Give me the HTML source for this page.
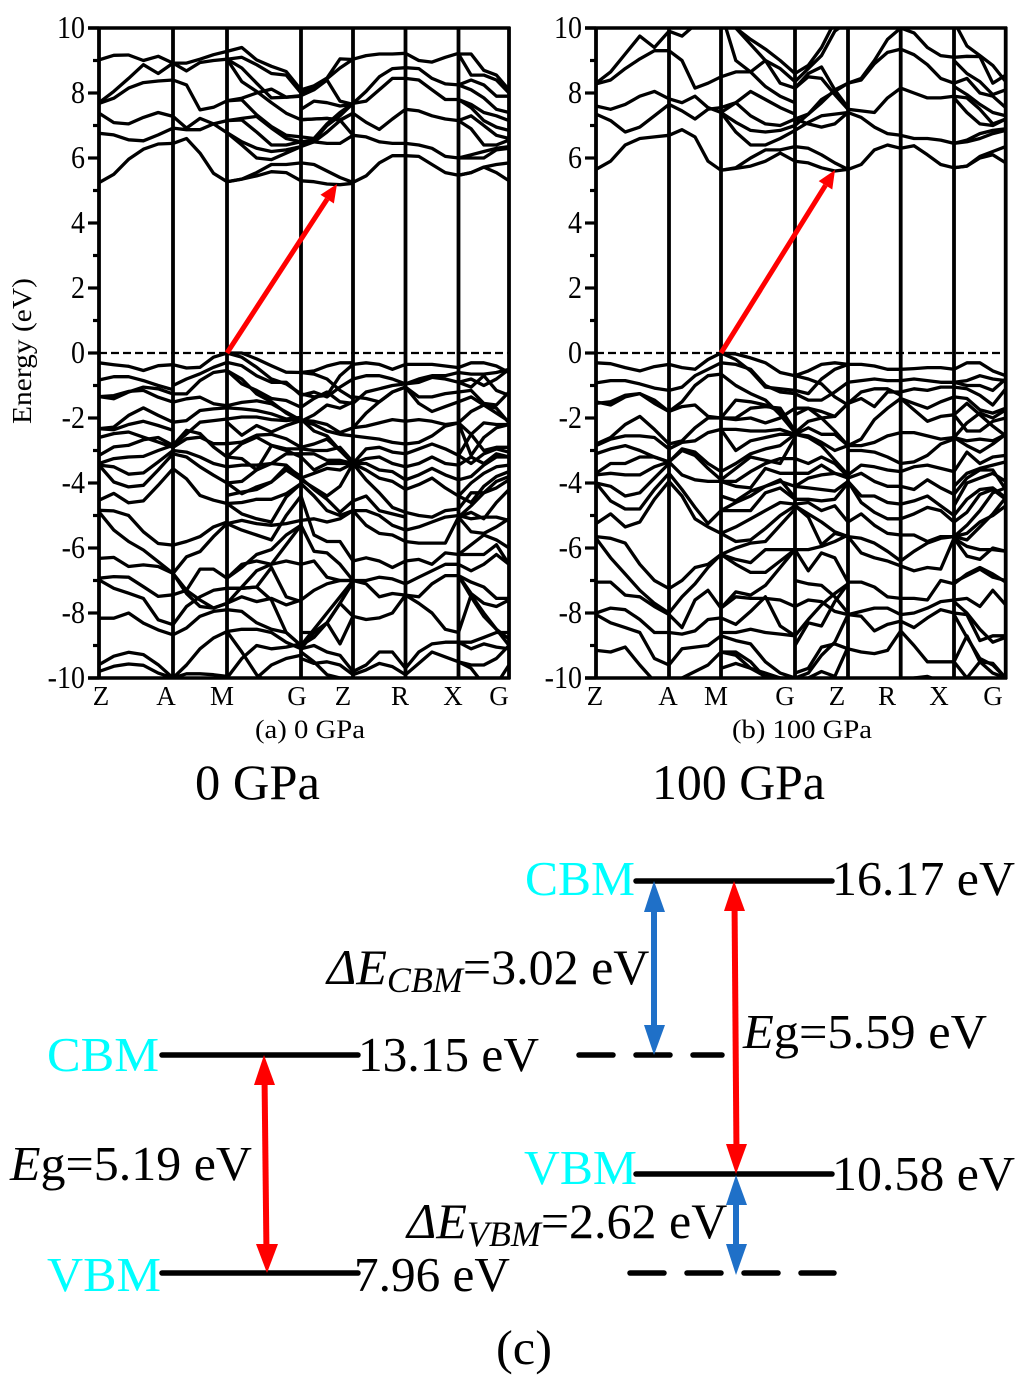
<!DOCTYPE html>
<html lang="en">
<head>
<meta charset="utf-8">
<title>Band structure at 0 GPa and 100 GPa</title>
<style>
html,body{margin:0;padding:0;background:#fff;}
svg{display:block;}
text{font-family:"Liberation Serif","DejaVu Serif",serif;fill:#000;}
</style>
</head>
<body>
<svg id="fig" xmlns="http://www.w3.org/2000/svg" width="1024" height="1389" viewBox="0 0 1024 1389">
  <rect x="0" y="0" width="1024" height="1389" fill="#fff"/>
  <g id="panelA"></g>
  <g id="panelB"></g>

  <text transform="translate(31,351) rotate(-90)" text-anchor="middle" font-size="27" textLength="146" lengthAdjust="spacingAndGlyphs">Energy (eV)</text>
  <text x="255" y="738" font-size="26" textLength="110" lengthAdjust="spacingAndGlyphs">(a) 0 GPa</text>
  <text x="732" y="738" font-size="26" textLength="140" lengthAdjust="spacingAndGlyphs">(b) 100 GPa</text>
  <text x="195" y="799" font-size="50" textLength="125" lengthAdjust="spacingAndGlyphs">0 GPa</text>
  <text x="652" y="799" font-size="50" textLength="173" lengthAdjust="spacingAndGlyphs">100 GPa</text>

  <g>
    <line x1="162" y1="1055" x2="358" y2="1055" stroke="#000" stroke-width="5.5" stroke-linecap="round"/>
    <line x1="162" y1="1273" x2="358" y2="1273" stroke="#000" stroke-width="5.5" stroke-linecap="round"/>
    <line x1="636" y1="881" x2="832" y2="881" stroke="#000" stroke-width="5.5" stroke-linecap="round"/>
    <line x1="636" y1="1174" x2="832" y2="1174" stroke="#000" stroke-width="5.5" stroke-linecap="round"/>
    <line x1="579" y1="1055" x2="722" y2="1055" stroke="#000" stroke-width="5.5" stroke-linecap="round" stroke-dasharray="34 23"/>
    <line x1="630" y1="1273" x2="834" y2="1273" stroke="#000" stroke-width="5.5" stroke-linecap="round" stroke-dasharray="34 23"/>

    <g fill="#ff0000">
      <polygon points="261.5,1075 267.5,1075 269.5,1255 263.5,1255"/>
      <polygon points="264,1055 254,1085 275,1085"/>
      <polygon points="267,1273 256,1244 278,1244"/>
    </g>
    <g fill="#ff0000">
      <polygon points="731.5,900 737.5,900 739.5,1156 733.5,1156"/>
      <polygon points="734,881 724,911 745,911"/>
      <polygon points="736,1174 726,1144 747,1144"/>
    </g>
    <g fill="#1f70c8">
      <rect x="651" y="905" width="6" height="130"/>
      <polygon points="654,881 644,912 665,912"/>
      <polygon points="654,1055 644,1025 665,1025"/>
    </g>
    <g fill="#1f70c8">
      <rect x="733" y="1195" width="6" height="60"/>
      <polygon points="736,1175 726,1205 747,1205"/>
      <polygon points="736,1275 726,1244 747,1244"/>
    </g>

    <text x="47" y="1071" font-size="49" style="fill:#00ffff" textLength="112" lengthAdjust="spacingAndGlyphs">CBM</text>
    <text x="47" y="1291" font-size="49" style="fill:#00ffff" textLength="114" lengthAdjust="spacingAndGlyphs">VBM</text>
    <text x="525" y="895" font-size="49" style="fill:#00ffff" textLength="110" lengthAdjust="spacingAndGlyphs">CBM</text>
    <text x="524" y="1184" font-size="49" style="fill:#00ffff" textLength="113" lengthAdjust="spacingAndGlyphs">VBM</text>
    <text x="358" y="1071" font-size="49" textLength="181" lengthAdjust="spacingAndGlyphs">13.15 eV</text>
    <text x="354" y="1291" font-size="49" textLength="156" lengthAdjust="spacingAndGlyphs">7.96 eV</text>
    <text x="832" y="895" font-size="49" textLength="183" lengthAdjust="spacingAndGlyphs">16.17 eV</text>
    <text x="832" y="1190" font-size="49" textLength="183" lengthAdjust="spacingAndGlyphs">10.58 eV</text>
    <text x="10" y="1180" font-size="49" textLength="242" lengthAdjust="spacingAndGlyphs"><tspan font-style="italic">E</tspan>g=5.19 eV</text>
    <text x="743" y="1048" font-size="49" textLength="244" lengthAdjust="spacingAndGlyphs"><tspan font-style="italic">E</tspan>g=5.59 eV</text>
    <text x="327" y="984" font-size="50"><tspan font-style="italic">ΔE</tspan><tspan font-style="italic" font-size="36" dy="8">CBM</tspan><tspan dy="-8">=3.02 eV</tspan></text>
    <text x="407" y="1238" font-size="50"><tspan font-style="italic">ΔE</tspan><tspan font-style="italic" font-size="36" dy="8">VBM</tspan><tspan dy="-8">=2.62 eV</tspan></text>
    <text x="496" y="1364" font-size="49" textLength="56" lengthAdjust="spacingAndGlyphs">(c)</text>
  </g>
</svg>
<script>
const yTicks = [10, 8, 6, 4, 2, 0, -2, -4, -6, -8, -10];
const yMinorTicks = [9, 7, 5, 3, 1, -1, -3, -5, -7, -9];
const kLabels = ['Z', 'A', 'M', 'G', 'Z', 'R', 'X', 'G'];
const kNodesA = [0, 0.74, 1.28, 2.02, 2.54, 3.065, 3.595, 4.1];
const kNodesB = [0, 0.73, 1.25, 1.99, 2.52, 3.047, 3.58, 4.097];
const kLabelsAtA = [0.02, 0.67, 1.23, 1.98, 2.44, 3.01, 3.54, 4.0];
const kLabelsAtB = [-0.01, 0.72, 1.2, 1.89, 2.41, 2.91, 3.43, 3.97];
const arrowA = [1.28, 0, 2.38, 5.2];
const arrowB = [1.25, 0, 2.39, 5.63];

const bandsA_ZA = [
[9.02,9.16,9.17,9.0,9.13,8.92],[7.7,8.05,8.45,8.87,8.6,8.92],[7.68,7.84,8.15,8.32,8.37,8.4],[7.38,7.09,7.05,7.25,7.4,7.28],[6.76,6.71,6.56,6.53,6.71,6.92],[5.24,5.5,5.96,6.27,6.43,6.45],
[-.3,-.36,-.41,-.54,-.39,-.36],[-.83,-.73,-.73,-.85,-1.0,-1.13],[-1.34,-1.41,-1.2,-1.05,-1.1,-1.26],[-1.34,-1.31,-1.18,-1.15,-1.36,-1.51],[-2.33,-2.28,-1.92,-1.69,-1.92,-2.13],[-2.33,-2.36,-2.2,-2.1,-2.23,-2.38],[-2.6,-2.48,-2.43,-2.59,-2.74,-2.9],[-3.15,-2.89,-2.84,-2.67,-2.6,-2.84],[-3.4,-3.25,-3.2,-3.18,-3.0,-2.84],[-3.45,-3.5,-3.73,-3.69,-3.35,-3.0],[-3.45,-3.97,-4.12,-4.07,-3.6,-3.1],[-4.53,-4.32,-4.61,-4.55,-4.07,-3.56],[-4.84,-4.86,-5.0,-5.5,-5.86,-5.91],[-4.89,-5.45,-5.8,-6.06,-6.42,-6.78],[-6.32,-6.29,-6.57,-6.52,-6.57,-6.78],[-6.93,-6.88,-6.9,-7.19,-7.49,-7.44],[-6.98,-7.24,-7.39,-7.55,-8.21,-8.36],[-8.16,-8.16,-8.0,-8.31,-8.52,-8.67],[-9.59,-9.33,-9.21,-9.28,-9.59,-10],[-9.8,-9.64,-9.57,-9.61,-9.85,-10]
];
const bandsA_AM = [
[8.92,8.92,9.04,9.18,9.28],[8.92,8.68,8.94,9.0,9.04],[8.4,8.25,7.48,7.56,7.76],[7.28,6.92,7.22,7.05,6.78],[6.92,6.87,6.87,7.05,7.15],[6.45,6.6,6.15,5.53,5.27],
[-.36,-.46,-.44,-.13,0],[-1.0,-.8,-.64,-.44,-.29],[-1.26,-1.26,-.85,-.6,-.54],[-1.51,-1.41,-1.36,-1.56,-1.62],[-2.13,-2.08,-1.77,-1.72,-1.69],[-2.84,-2.49,-2.13,-2.08,-2.03],[-2.9,-2.64,-2.59,-2.79,-2.79],[-2.84,-2.38,-2.48,-2.89,-3.2],[-3,-3.05,-3.2,-3.4,-3.5],[-3.1,-3.2,-3.5,-3.76,-4.0],[-3.56,-3.87,-4.38,-4.53,-4.63],[-5.91,-5.8,-5.65,-5.35,-5.2],[-6.78,-6.27,-6.11,-5.65,-5.25],[-6.78,-7.3,-6.65,-6.65,-6.93],[-6.78,-7.4,-7.8,-7.85,-7.7],[-7.44,-7.3,-7.6,-7.85,-7.7],[-8.36,-7.8,-7.5,-7.3,-7.24],[-8.67,-8.46,-8.1,-7.95,-7.9],[-10,-9.6,-9.1,-8.77,-8.57],[-10,-9.87,-9.87,-9.9,-9.95]
];
const bandsA_MG = [
[9.28,9.4,9.02,8.82,8.66,8.1],[9.04,9.1,8.87,8.6,8.55,8.0],[9.04,8.77,8.3,7.85,7.87,7.92],[9.04,8.35,8.05,7.7,7.38,7.18],[7.76,7.84,8.0,8.12,7.87,7.9],[7.76,7.79,7.33,6.97,6.7,6.65],[7.15,7.22,7.28,6.92,6.6,6.5],[7.15,7.17,6.8,6.4,6.4,6.5],[6.78,6.5,6.3,6.2,6.25,6.35],[6.78,6.4,6.0,5.95,6.15,6.35],[5.27,5.35,5.55,5.8,5.8,5.85],[5.27,5.35,5.45,5.58,5.55,5.3],
[0,-.13,-.44,-.8,-.95,-1.26],[0,0,-.18,-.39,-.59,-.6],[-.29,-.39,-.7,-.9,-.9,-1.3],[-.54,-.95,-1.15,-1.4,-1.46,-1.67],[-.54,-.8,-1.26,-1.5,-1.85,-2.1],[-1.62,-1.52,-1.47,-1.56,-1.82,-2.07],[-1.69,-1.72,-1.77,-1.87,-2.03,-1.98],[-2.03,-1.97,-1.97,-2.05,-2.08,-2.03],[-2.13,-2.53,-2.23,-2.43,-2.23,-2.08],[-2.79,-2.74,-2.53,-2.5,-2.64,-2.9],[-3.2,-2.79,-2.59,-2.84,-2.95,-2.95],[-3.5,-3.45,-3.45,-3.4,-3.1,-3.1],[-3.2,-3.25,-3.6,-2.85,-3.0,-3.2],[-4.0,-3.95,-3.6,-3.4,-3.45,-3.85],[-4.0,-4.33,-4.12,-3.97,-3.6,-3.9],[-4.38,-4.28,-4.2,-3.97,-3.5,-3.8],[-4.63,-4.6,-4.5,-4.5,-4.33,-4.02],[-4.63,-4.95,-5.1,-5.2,-4.43,-4.02],[-5.25,-5.15,-5.25,-5.3,-5.25,-5.15],[-5.25,-5.45,-5.6,-5.75,-5.0,-4.4],[-6.93,-6.6,-6.2,-6.05,-5.6,-5.3],[-6.93,-6.5,-6.4,-6.5,-6.4,-6.5],[-7.7,-7.2,-6.7,-6.5,-5.9,-5.3],[-7.24,-7.24,-7.2,-6.6,-7.5,-7.65],[-7.7,-7.5,-7.65,-7.55,-7.75,-7.6],[-7.9,-7.95,-8.3,-8.5,-8.6,-9.0],[-7.24,-7.24,-7.2,-7.6,-8.6,-9.0],[-8.57,-8.5,-8.5,-8.6,-8.9,-9.1],[-8.57,-9.2,-9.9,-10.2,-10.2,-10.2],[-10,-9.4,-9.0,-9.1,-9.05,-8.95],[-10.2,-10.2,-10,-9.6,-9.4,-9.3]
];
const bandsA_GZ = [
[8.1,8.22,8.46,9.05,9.03],[8.0,8.18,8.44,8.77,9.04],[7.92,8.1,8.4,7.75,7.65],[7.5,7.75,7.7,7.6,7.65],[7.18,7.2,7.22,7.17,7.38],[6.65,6.6,7.05,7.4,7.68],[6.5,6.55,7.0,7.3,7.68],[6.4,6.5,6.45,6.45,6.7],[6.35,6.5,6.8,7.15,7.38],[7.18,7.2,7.22,7.17,6.7],[5.85,5.8,5.6,5.4,5.25],[5.3,5.27,5.2,5.18,5.22],
[-.6,-.55,-.4,-.3,-.3],[-.6,-.65,-.8,-1.15,-1.4],[-1.26,-1.35,-1.3,-.7,-.35],[-1.3,-1.2,-1.35,-1.05,-.8],[-1.67,-1.4,-1.2,-1.5,-1.55],[-2.1,-1.9,-1.6,-1.7,-1.5],[-2.07,-2.1,-2.2,-2.45,-2.3],[-2.03,-2.4,-2.55,-3.0,-3.4],[-2.08,-2.2,-2.4,-2.5,-2.55],[-2.9,-2.8,-2.65,-3.0,-3.4],[-2.95,-3.0,-3.0,-2.9,-3.35],[-3.1,-3.1,-3.3,-3.3,-3.4],[-3.2,-3.6,-3.4,-3.4,-3.4],[-3.85,-3.7,-3.55,-3.6,-3.4],[-3.85,-4.2,-4.5,-4.9,-4.55],[-3.9,-4.15,-4.4,-4.1,-3.4],[-4.02,-4.4,-4.85,-5.0,-4.85],[-5.15,-5.1,-5.2,-5.1,-4.85],[-4.4,-5.6,-5.8,-5.8,-6.4],[-5.3,-6.1,-6.15,-6.5,-7.0],[-6.5,-6.4,-6.9,-7.0,-7.0],[-7.6,-7.3,-7.1,-7.0,-7.0],[-9.0,-8.5,-8.0,-7.5,-7.0],[-8.6,-8.6,-8.3,-7.7,-7.05],[-9.0,-8.75,-8.3,-8.95,-8.1],[-9.1,-8.6,-8.3,-7.7,-8.1],[-9.1,-9.0,-9.2,-9.3,-9.8],[-9.4,-9.55,-9.5,-9.6,-9.9],[-9.2,-9.5,-9.9,-10,-10]
];
const bandsA_ZR = [
[9.04,9.15,9.2,9.2,9.22],[7.68,8.05,8.5,8.75,8.78],[7.68,7.75,8.1,8.45,8.45],[7.38,7.1,6.88,7.2,7.5],[6.7,6.65,6.5,6.45,6.45],[5.25,5.45,5.85,6.07,6.07],
[-.35,-.3,-.35,-.5,-.35],[-.8,-.7,-.7,-.8,-.95],[-1.35,-1.4,-1.5,-1.2,-1.05],[-1.55,-1.2,-1.1,-1.0,-.95],[-2.3,-1.85,-1.5,-1.2,-1.05],[-2.3,-2.25,-2.15,-2.05,-2.1],[-2.55,-2.6,-2.65,-2.75,-2.8],[-3.4,-2.95,-2.9,-3.05,-3.1],[-3.4,-3.25,-3.2,-3.4,-3.5],[-3.4,-3.4,-3.6,-3.65,-3.9],[-3.4,-3.6,-3.85,-3.95,-4.2],[-3.4,-3.9,-4.3,-4.75,-4.9],[-4.55,-4.4,-4.85,-4.95,-5.05],[-4.85,-4.85,-5.0,-5.3,-5.45],[-4.85,-5.3,-5.55,-5.6,-5.8],[-6.4,-6.3,-6.4,-6.6,-6.4],[-7.0,-7.0,-6.9,-6.95,-7.1],[-7.0,-7.1,-7.5,-7.4,-7.45],[-8.1,-8.2,-8.15,-8.0,-7.45],[-9.8,-9.6,-9.2,-9.2,-9.7],[-9.9,-9.75,-9.55,-9.65,-9.9]
];
const bandsA_RX = [
[9.22,9.0,8.95,9.1,9.22],[8.78,8.75,8.45,8.28,8.25],[8.45,8.4,8.1,7.8,7.8],[7.5,7.45,7.3,7.2,7.15],[6.45,6.4,6.3,6.05,6.0],[6.07,6.05,5.8,5.55,5.47],
[-.35,-.35,-.35,-.4,-.45],[-.95,-.8,-.7,-.7,-.6],[-.95,-.9,-.75,-.8,-.9],[-1.05,-1.35,-1.35,-1.25,-1.2],[-1.05,-1.55,-1.8,-1.65,-1.5],[-2.1,-2.05,-2.1,-2.2,-2.15],[-2.8,-2.75,-2.55,-2.25,-2.15],[-3.1,-2.95,-2.8,-2.95,-3.15],[-3.5,-3.4,-3.2,-3.4,-3.45],[-3.9,-3.75,-3.55,-3.75,-3.9],[-4.2,-4.05,-3.85,-4.15,-4.4],[-4.9,-5.0,-5.05,-4.85,-4.8],[-5.45,-5.35,-5.2,-5.05,-5.0],[-5.8,-5.85,-5.85,-5.85,-5.05],[-6.4,-6.35,-6.5,-6.15,-6.2],[-7.1,-6.9,-6.7,-6.5,-6.5],[-7.45,-7.5,-7.1,-6.85,-6.85],[-7.45,-7.7,-8.0,-8.5,-8.6],[-9.7,-9.2,-8.95,-8.9,-8.9],[-9.9,-9.55,-9.2,-9.35,-9.5]
];
const bandsA_XG = [
[9.2,9.2,8.7,8.55,8.1],[9.2,8.55,8.55,8.4,8.0],[8.25,8.4,8.25,7.9,7.9],[8.25,8.1,7.85,7.5,7.4],[7.8,7.65,7.4,7.3,7.15],[7.8,7.55,7.15,6.95,6.85],[7.15,7.3,7.0,6.7,6.6],[7.15,6.9,6.4,6.4,6.55],[6.0,6.1,6.2,6.3,6.35],[6.0,6.0,6.0,6.25,6.3],[5.47,5.55,5.72,5.8,5.85],[5.47,5.55,5.72,5.55,5.3],
[-.45,-.3,-.3,-.4,-.6],[-.6,-.65,-.65,-.6,-.5],[-.9,-.8,-1.0,-.8,-.5],[-.9,-1.05,-.7,-1.15,-1.3],[-1.2,-1.15,-1.55,-1.6,-1.2],[-1.5,-1.35,-1.6,-1.85,-2.1],[-2.15,-1.8,-1.6,-1.7,-2.15],[-2.15,-2.5,-2.15,-2.2,-2.2],[-2.15,-3.15,-2.6,-2.3,-2.2],[-3.15,-2.5,-3.0,-2.9,-2.9],[-3.15,-3.4,-3.1,-2.95,-3.05],[-3.45,-3.2,-3.4,-3.1,-3.2],[-3.9,-3.8,-3.45,-3.2,-3.2],[-4.4,-4.0,-3.7,-3.5,-3.45],[-4.4,-4.6,-4.1,-3.8,-3.65],[-4.8,-4.3,-4.3,-4.15,-3.9],[-5.05,-4.7,-4.3,-3.95,-3.8],[-5.05,-4.9,-5.1,-4.6,-4.2],[-5.0,-5.1,-5.05,-5.05,-5.15],[-5.05,-5.5,-5.55,-5.35,-5.1],[-6.2,-5.9,-5.6,-5.75,-6.0],[-6.2,-6.2,-6.2,-5.9,-6.5],[-6.5,-6.7,-6.5,-6.2,-6.5],[-6.85,-7.05,-7.2,-7.55,-7.55],[-6.85,-7.4,-7.7,-7.8,-7.6],[-8.6,-7.45,-8.0,-8.5,-9.0],[-6.85,-7.5,-8.1,-8.5,-8.8],[-8.9,-8.9,-8.75,-8.6,-8.6],[-8.9,-9.1,-8.95,-9.05,-9.1],[-9.5,-9.6,-9.6,-9.4,-9.0],[-9.5,-9.7,-10.2,-10.2,-9.6]
];

const bandsB_ZA = [
[8.3,8.65,9.2,9.75,9.4,9.9],[8.28,8.4,8.75,9.05,9.3,9.3],[7.6,7.5,7.65,7.9,8.05,7.82],[7.35,7.15,6.8,6.95,7.3,7.65],[5.65,5.9,6.4,6.6,6.65,6.7],
[-.3,-.33,-.45,-.55,-.42,-.35],[-.92,-.85,-.85,-.95,-1.08,-1.15],[-1.5,-1.6,-1.35,-1.25,-1.45,-1.8],[-1.55,-1.5,-1.3,-1.25,-1.55,-1.8],[-2.8,-2.6,-2.2,-1.95,-2.35,-2.8],[-2.85,-2.65,-2.55,-2.55,-2.6,-2.95],[-3.1,-2.95,-2.85,-3.0,-3.2,-3.35],[-3.7,-3.4,-3.4,-3.2,-3.2,-3.35],[-3.75,-3.7,-3.75,-3.75,-3.5,-3.35],[-4.0,-4.1,-4.4,-4.3,-3.85,-3.4],[-4.0,-4.55,-4.8,-4.8,-4.2,-3.7],[-5.25,-4.95,-5.35,-5.2,-4.5,-3.95],[-5.65,-5.7,-5.85,-6.5,-7.0,-7.25],[-5.7,-6.3,-6.8,-7.3,-7.7,-8.0],[-7.05,-7.05,-7.45,-7.5,-7.8,-8.05],[-8.0,-7.85,-7.9,-8.2,-8.6,-8.6],[-8.05,-8.3,-8.45,-8.6,-9.4,-9.6],[-9.15,-9.2,-9.05,-9.6,-10.1,-10.3]
];
const bandsB_AM = [
[9.9,9.75,10.1,10.5,10.9],[9.3,9.0,8.15,8.3,8.5],[7.82,7.7,7.9,7.55,7.4],[7.65,7.45,7.2,7.5,7.55],[6.7,6.87,6.65,5.9,5.62],
[-.35,-.45,-.5,-.2,0],[-1.15,-1.05,-.7,-.5,-.3],[-1.8,-1.5,-1.0,-.7,-.65],[-1.8,-1.65,-1.6,-1.95,-2.0],[-2.8,-2.7,-2.3,-2.0,-2.0],[-2.95,-2.75,-2.7,-2.45,-2.35],[-3.35,-2.95,-3.05,-3.4,-3.65],[-3.35,-3.0,-3.15,-3.55,-3.9],[-3.35,-3.75,-3.9,-3.95,-3.95],[-3.7,-4.2,-4.75,-5.25,-4.85],[-3.95,-4.4,-5.1,-5.35,-5.55],[-7.25,-7.0,-6.6,-6.5,-6.2],[-8.0,-7.5,-7.1,-6.6,-6.2],[-8.05,-8.45,-7.6,-7.3,-7.85],[-8.6,-8.65,-8.55,-8.2,-8.15],[-9.6,-9.1,-9.05,-9.0,-8.7],[-10.3,-10,-9.8,-9.6,-9.2]
];
const bandsB_MG = [
[10.5,10.0,9.65,9.35,9.0,8.6],[10.5,10.0,9.5,9.0,8.75,8.35],[10.5,9.0,8.65,9.0,8.3,8.15],[8.5,8.65,8.65,8.2,7.9,7.7],[7.55,7.7,8.05,7.8,7.55,7.35],[7.4,7.7,7.3,7.05,7.0,7.2],[7.4,7.1,6.85,6.8,6.85,7.0],[7.4,6.8,6.4,6.4,6.6,6.85],[5.62,5.7,6.0,6.25,6.25,6.35],[5.62,5.68,5.75,5.9,6.15,5.9],
[0,-.03,-.15,-.3,-.6,-.7],[0,-.2,-.55,-1.05,-1.1,-1.15],[-.3,-.35,-.5,-1.0,-1.2,-1.25],[-.65,-1.0,-1.25,-1.45,-1.9,-2.45],[-2.0,-1.45,-1.5,-1.6,-1.8,-2.4],[-2.0,-2.0,-1.7,-1.65,-1.7,-2.4],[-2.0,-2.05,-2.0,-2.15,-2.0,-1.7],[-2.35,-2.35,-2.4,-2.4,-2.35,-2.5],[-2.35,-3.0,-2.7,-2.6,-2.5,-2.5],[-3.65,-3.4,-3.1,-2.95,-2.85,-2.5],[-3.9,-3.55,-3.2,-3.3,-3.4,-2.6],[-3.95,-3.95,-3.65,-3.4,-3.25,-3.25],[-3.95,-4.1,-4.15,-3.55,-3.7,-3.7],[-4.4,-4.55,-4.25,-4.1,-3.95,-4.1],[-4.85,-4.85,-4.85,-4.3,-4.15,-4.5],[-4.85,-4.6,-4.4,-4.1,-3.9,-4.45],[-5.55,-5.35,-5.1,-4.85,-4.6,-4.65],[-5.55,-5.8,-5.75,-5.4,-5.0,-4.7],[-6.2,-6.0,-5.85,-5.8,-5.3,-4.8],[-6.2,-6.35,-6.45,-6.05,-6.05,-6.05],[-6.2,-6.5,-6.75,-6.75,-6.4,-6.05],[-7.85,-7.35,-7.45,-7.15,-6.6,-6.05],[-7.85,-7.5,-7.55,-7.55,-7.6,-7.8],[-8.15,-8.35,-7.95,-7.5,-8.4,-8.7],[-8.6,-8.6,-8.5,-8.6,-8.65,-8.7],[-9.2,-9.2,-9.5,-10,-10.3,-10.3],[-8.7,-8.85,-8.95,-9.5,-9.85,-10],[-9.7,-9.55,-9.7,-9.85,-10,-10],[-9.2,-9.3,-9.7,-9.95,-10,-10.2]
];
const bandsB_GZ = [
[8.6,8.85,9.4,10.2,10.6],[8.35,8.75,9.15,9.9,10.2],[8.15,8.5,8.45,7.95,7.5],[8.15,8.6,8.8,8.1,7.55],[7.2,7.35,7.8,8.05,8.3],[7.0,7.35,7.7,8.1,8.3],[7.2,7.05,6.95,7.05,7.4],[6.85,7.1,7.3,7.35,7.4],[6.35,6.3,6.1,5.85,5.65],[5.9,5.85,5.7,5.6,5.65],
[-.7,-.55,-.35,-.3,-.35],[-.7,-.8,-.95,-1.35,-1.6],[-1.15,-1.25,-.8,-.5,-.35],[-1.25,-1.45,-1.45,-1.2,-.9],[-1.9,-1.7,-1.8,-1.95,-1.55],[-2.45,-2.1,-2.0,-1.95,-1.55],[-1.7,-1.7,-2.0,-2.4,-2.85],[-2.5,-2.3,-2.5,-2.5,-2.85],[-2.5,-2.55,-2.75,-3.0,-2.85],[-2.5,-2.6,-2.85,-3.3,-3.75],[-3.25,-3.4,-3.2,-3.4,-3.8],[-3.7,-3.7,-3.45,-3.7,-3.8],[-4.1,-3.85,-3.75,-3.7,-3.85],[-4.1,-4.15,-4.2,-4.25,-3.95],[-4.5,-4.5,-4.55,-4.5,-4.0],[-4.65,-4.6,-4.85,-4.7,-5.2],[-4.7,-4.95,-5.2,-5.5,-5.65],[-4.7,-5.05,-5.9,-5.55,-5.65],[-6.05,-6.05,-5.95,-5.8,-5.6],[-6.05,-6.7,-6.15,-6.3,-7.05],[-7.0,-7.1,-7.15,-7.5,-8.0],[-7.8,-7.6,-7.65,-7.95,-8.05],[-8.7,-8.2,-7.75,-7.4,-7.1],[-9.85,-9.7,-9.05,-8.95,-9.1],[-10,-9.85,-9.3,-8.9,-8.05],[-9,-8.3,-8.4,-7.65,-7.1],[-10,-10,-9.8,-9.95,-9.05]
];
const bandsB_ZR = [
[8.3,8.45,9.0,9.65,10.0],[8.3,8.4,8.9,9.25,9.35],[7.5,7.45,7.4,7.85,8.15],[7.4,7.25,6.95,6.75,6.7],[5.65,5.8,6.25,6.4,6.3],
[-.35,-.35,-.4,-.5,-.5],[-.9,-.85,-.8,-.85,-.85],[-1.55,-1.4,-1.65,-1.2,-1.2],[-1.55,-1.2,-1.1,-1.1,-1.3],[-2.85,-2.65,-2.05,-1.7,-1.4],[-2.85,-2.85,-2.75,-2.55,-2.45],[-3.0,-3.0,-3.05,-3.2,-3.4],[-3.75,-3.45,-3.5,-3.6,-3.65],[-3.85,-3.7,-3.95,-4.1,-4.1],[-3.95,-4.4,-4.4,-4.6,-4.65],[-3.95,-4.6,-4.9,-5.1,-5.1],[-5.2,-4.95,-5.3,-5.55,-5.6],[-5.65,-5.7,-5.85,-6.1,-6.4],[-5.65,-6.15,-6.3,-6.4,-6.55],[-7.05,-7.05,-7.2,-7.5,-7.55],[-8.05,-8.1,-8.55,-8.35,-8.25],[-8.05,-7.95,-7.85,-7.85,-8.05],[-9.1,-9.2,-9.25,-9.15,-8.55]
];
const bandsB_RX = [
[10,9.85,9.4,9.15,9.1],[9.35,9.18,8.87,8.45,8.3],[8.15,8.0,7.85,7.85,7.9],[6.7,6.6,6.6,6.55,6.45],[6.3,6.38,6.1,5.8,5.7],
[-.5,-.48,-.45,-.45,-.5],[-.85,-.8,-.85,-.9,-.9],[-1.2,-1.1,-1.15,-1.05,-1.05],[-1.4,-1.55,-1.7,-1.5,-1.35],[-1.4,-1.75,-2.1,-1.95,-1.9],[-2.45,-2.45,-2.55,-2.65,-2.6],[-3.4,-3.35,-3.15,-2.8,-2.65],[-3.65,-3.5,-3.45,-3.55,-3.65],[-4.1,-4.2,-3.9,-4.15,-4.35],[-4.65,-4.55,-4.4,-4.7,-5.0],[-5.1,-4.95,-4.75,-4.85,-5.2],[-5.6,-5.6,-5.8,-5.65,-5.65],[-6.4,-6.1,-5.85,-5.7,-5.65],[-6.55,-6.7,-6.6,-6.65,-5.7],[-7.55,-7.55,-7.6,-7.0,-7.1],[-8.05,-8.0,-7.85,-7.65,-7.6],[-8.25,-8.45,-8.15,-7.9,-8.0],[-8.55,-9.0,-9.5,-9.5,-9.5],[-10.2,-10,-9.95,-10.1,-10.2]
];
const bandsB_XG = [
[10.2,9.45,9.15,8.85,8.35],[9.1,9.13,9.12,8.3,8.55],[9.0,8.6,8.35,7.95,8.1],[8.3,8.45,8.0,7.9,7.55],[8.2,7.95,7.65,7.4,7.3],[7.9,7.85,7.5,7.05,7.2],[7.85,7.4,7.05,7.0,7.2],[6.45,6.55,6.75,6.85,6.9],[6.45,6.5,6.6,6.75,6.85],[5.7,5.75,6.05,6.2,6.35],[5.7,5.75,6.0,6.1,5.85],
[-.5,-.3,-.3,-.55,-.7],[-.9,-.85,-.7,-.8,-.85],[-.9,-1.0,-1.0,-1.15,-.8],[-1.05,-1.1,-1.3,-1.6,-1.1],[-1.35,-1.4,-1.75,-1.85,-1.7],[-1.9,-1.55,-1.9,-2.25,-2.55],[-1.9,-2.4,-2.4,-2.1,-2.0],[-2.6,-2.15,-1.85,-2.0,-1.75],[-2.6,-2.85,-3.05,-2.8,-2.5],[-2.6,-2.7,-2.65,-2.7,-2.5],[-3.65,-3.05,-3.4,-3.2,-3.15],[-4.1,-3.7,-3.55,-3.45,-3.35],[-4.35,-3.85,-3.6,-3.6,-4.2],[-4.7,-4.0,-3.85,-3.7,-3.95],[-5.0,-4.5,-4.2,-4.15,-4.45],[-5.2,-4.9,-4.35,-4.2,-4.5],[-5.65,-5.3,-4.85,-4.3,-4.15],[-5.65,-5.75,-5.35,-4.95,-4.45],[-5.65,-5.55,-5.2,-5.0,-4.7],[-5.7,-5.95,-6.05,-6.05,-6.1],[-5.7,-6.25,-6.35,-6.0,-6.1],[-7.1,-6.8,-6.6,-6.8,-7.05],[-7.05,-6.85,-6.65,-6.9,-7.0],[-7.6,-7.55,-7.8,-7.3,-7.75],[-8.0,-8.05,-8.85,-8.7,-8.7],[-7.65,-8.0,-8.5,-8.9,-8.75],[-8.05,-8.75,-9.4,-9.6,-10],[-9.5,-8.7,-9.5,-9.55,-10],[-9.5,-10,-9.5,-9.85,-10]
];

const segmentsA = [bandsA_ZA, bandsA_AM, bandsA_MG, bandsA_GZ, bandsA_ZR, bandsA_RX, bandsA_XG];
const segmentsB = [bandsB_ZA, bandsB_AM, bandsB_MG, bandsB_GZ, bandsB_ZR, bandsB_RX, bandsB_XG];

const svgNS = 'http://www.w3.org/2000/svg';
function make(tag, attrs, parent) {
  const el = document.createElementNS(svgNS, tag);
  for (const key in attrs) el.setAttribute(key, attrs[key]);
  parent.appendChild(el);
  return el;
}

function drawPanel(root, cfg) {
  const yTop = 28, yBottom = 678;
  const kMax = cfg.nodes[cfg.nodes.length - 1];
  const xScale = k => cfg.left + (cfg.right - cfg.left) * k / kMax;
  const yScale = e => yTop + (yBottom - yTop) * (10 - e) / 20;

  const clipId = cfg.id + '-clip';
  const defs = make('defs', {}, root);
  const clip = make('clipPath', {id: clipId}, defs);
  make('rect', {x: cfg.left, y: yTop, width: cfg.right - cfg.left, height: yBottom - yTop}, clip);

  const bandGroup = make('g', {'clip-path': 'url(#' + clipId + ')'}, root);
  
  
  cfg.segments.forEach((lines, s) => {
    const k0 = cfg.nodes[s], k1 = cfg.nodes[s + 1];
    lines.forEach(energies => {
      const pts = energies.map((e, i) => {
        const k = k0 + (k1 - k0) * i / (energies.length - 1);
        return xScale(k).toFixed(1) + ',' + yScale(e).toFixed(1);
      }).join(' ');
      const line = make('polyline', {points: pts, fill: 'none', stroke: '#000', 'stroke-width': 3.3, 'stroke-linejoin': 'round'}, bandGroup);
      
      
    });
  });

  cfg.nodes.forEach((k, i) => {
    const v = make('line', {x1: xScale(k), x2: xScale(k), y1: yTop - 1, y2: yBottom + 1, stroke: '#000', 'stroke-width': 3.8}, root);
    
    
    const label = make('text', {x: cfg.left + cfg.labelsAt[i] * 100, y: 705, 'font-size': 27, 'text-anchor': 'middle'}, root);
    label.textContent = kLabels[i];
    
    
  });

  const frameTop = make('line', {x1: cfg.left - 11, x2: cfg.right + 1.5, y1: yTop, y2: yTop, stroke: '#000', 'stroke-width': 3.6}, root);
  
  
  const frameBottom = make('line', {x1: cfg.left - 11, x2: cfg.right + 1.5, y1: yBottom, y2: yBottom, stroke: '#000', 'stroke-width': 3.6}, root);
  
  

  yTicks.forEach(t => {
    const tick = make('line', {x1: cfg.left - 11, x2: cfg.left, y1: yScale(t), y2: yScale(t), stroke: '#000', 'stroke-width': 3.2}, root);
    
    
    const label = make('text', {transform: 'translate(' + (cfg.left - 14) + ',' + (yScale(t) + 10) + ') scale(1,1.12)', 'font-size': 28, 'text-anchor': 'end'}, root);
    label.textContent = String(t);
    
    
  });
  yMinorTicks.forEach(t => {
    const tick = make('line', {x1: cfg.left - 6, x2: cfg.left, y1: yScale(t), y2: yScale(t), stroke: '#000', 'stroke-width': 3.2}, root);
    
    
  });

  const fermi = make('line', {x1: cfg.left, x2: cfg.right, y1: yScale(0), y2: yScale(0), stroke: '#000', 'stroke-width': 2.2, 'stroke-dasharray': '8 4'}, root);
  
  

  const x0 = xScale(cfg.arrow[0]), y0 = yScale(cfg.arrow[1]);
  const x1 = xScale(cfg.arrow[2]), y1 = yScale(cfg.arrow[3]);
  const len = Math.hypot(x1 - x0, y1 - y0), ux = (x1 - x0) / len, uy = (y1 - y0) / len;
  const bx = x1 - ux * 18, by = y1 - uy * 18, w = 8;
  const gapArrow = make('g', {}, root);
  
  
  make('line', {x1: x0, y1: y0, x2: bx, y2: by, stroke: '#ff0000', 'stroke-width': 5}, gapArrow);
  make('polygon', {points: [x1, y1, bx - uy * w, by + ux * w, bx + uy * w, by - ux * w].join(' '), fill: '#ff0000'}, gapArrow);
}

drawPanel(document.getElementById('panelA'), {id: 'a', left: 99, right: 509, nodes: kNodesA, labelsAt: kLabelsAtA, segments: segmentsA, arrow: arrowA});
drawPanel(document.getElementById('panelB'), {id: 'b', left: 596, right: 1005.7, nodes: kNodesB, labelsAt: kLabelsAtB, segments: segmentsB, arrow: arrowB});
</script>
</body>
</html>
